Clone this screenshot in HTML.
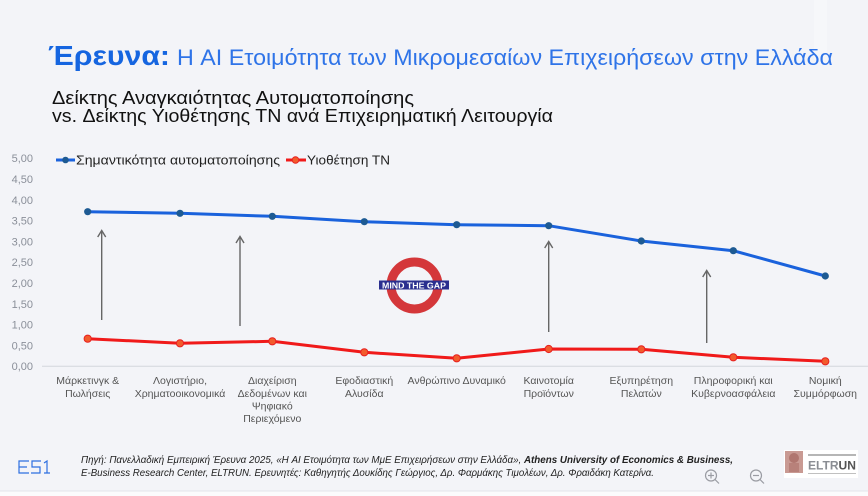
<!DOCTYPE html>
<html><head><meta charset="utf-8"><style>
html,body{margin:0;padding:0;background:#f3f4f8;}
svg{display:block;}
text{font-family:"Liberation Sans","DejaVu Sans",sans-serif;}
</style></head><body>
<svg width="868" height="496" viewBox="0 0 868 496" xmlns="http://www.w3.org/2000/svg">
<rect x="0" y="0" width="868" height="496" fill="#f3f4f8"/>
<rect x="814" y="0" width="13" height="60" fill="#f6f7fa"/>
<rect x="0" y="491" width="868" height="5" fill="#fbfbfc"/>
<line x1="0" y1="491" x2="868" y2="491" stroke="#e3e5ea" stroke-width="1"/>

<!-- Title -->
<text x="48" y="65" font-size="28" font-weight="bold" fill="#1565e0" textLength="122" lengthAdjust="spacingAndGlyphs">Έρευνα:</text>
<text x="177" y="65" font-size="22" fill="#2f74e8" textLength="656" lengthAdjust="spacingAndGlyphs">Η AI Ετοιμότητα των Μικρομεσαίων Επιχειρήσεων στην Ελλάδα</text>

<text x="52" y="104" font-size="18" fill="#111" textLength="362" lengthAdjust="spacingAndGlyphs">Δείκτης Αναγκαιότητας Αυτοματοποίησης</text>
<text x="52" y="122" font-size="18" fill="#111" textLength="501" lengthAdjust="spacingAndGlyphs">vs. Δείκτης Υιοθέτησης ΤΝ ανά Επιχειρηματική Λειτουργία</text>

<!-- Y axis labels -->
<g font-size="11" fill="#8a8f99" text-anchor="end">
<text x="33" y="162">5,00</text>
<text x="33" y="183">4,50</text>
<text x="33" y="204">4,00</text>
<text x="33" y="224.5">3,50</text>
<text x="33" y="245.5">3,00</text>
<text x="33" y="266">2,50</text>
<text x="33" y="287">2,00</text>
<text x="33" y="308">1,50</text>
<text x="33" y="328.5">1,00</text>
<text x="33" y="349.5">0,50</text>
<text x="33" y="370">0,00</text>
</g>

<!-- baseline -->
<line x1="42" y1="366.3" x2="868" y2="366.3" stroke="#d3d6dc" stroke-width="1"/>

<!-- Legend -->
<line x1="56" y1="160" x2="75" y2="160" stroke="#1a62dc" stroke-width="3"/>
<circle cx="65.5" cy="160" r="3.3" fill="#1d5a93"/>
<text x="76" y="164.5" font-size="13" fill="#222" textLength="204" lengthAdjust="spacingAndGlyphs">Σημαντικότητα αυτοματοποίησης</text>
<line x1="286" y1="160" x2="306" y2="160" stroke="#f01a1a" stroke-width="3"/>
<circle cx="295.5" cy="160" r="3.3" fill="#f25b2c" stroke="#e82020" stroke-width="1"/>
<text x="307" y="164.5" font-size="13" fill="#222" textLength="83" lengthAdjust="spacingAndGlyphs">Υιοθέτηση ΤΝ</text>

<!-- Arrows -->
<g stroke="#666" stroke-width="1.4" fill="none">
<line x1="101.7" y1="320" x2="101.7" y2="231"/>
<polyline points="97.7,237 101.7,230.5 105.7,237"/>
<line x1="240" y1="326" x2="240" y2="237"/>
<polyline points="236,243 240,236.5 244,243"/>
<line x1="548.7" y1="332" x2="548.7" y2="242"/>
<polyline points="544.7,248 548.7,241.5 552.7,248"/>
<line x1="706.7" y1="343" x2="706.7" y2="271"/>
<polyline points="702.7,277 706.7,270.5 710.7,277"/>
</g>

<!-- Mind the gap -->
<circle cx="414.5" cy="285.5" r="23.5" fill="none" stroke="#d4373a" stroke-width="9"/>
<rect x="379" y="280.5" width="70" height="9" fill="#2b2f8f"/>
<text x="414" y="288.3" font-size="8" font-weight="bold" fill="#fff" text-anchor="middle" textLength="64" lengthAdjust="spacingAndGlyphs">MIND THE GAP</text>

<!-- Blue series -->
<polyline fill="none" stroke="#1a62dc" stroke-width="3" stroke-linejoin="round" points="87.7,211.7 180,213.3 272.3,216.3 364.3,221.7 456.7,224.7 548.7,225.7 641.3,241 733.3,250.7 825.3,276"/>
<g fill="#1d5a93">
<circle cx="87.7" cy="211.7" r="3.6"/><circle cx="180" cy="213.3" r="3.6"/><circle cx="272.3" cy="216.3" r="3.6"/><circle cx="364.3" cy="221.7" r="3.6"/><circle cx="456.7" cy="224.7" r="3.6"/><circle cx="548.7" cy="225.7" r="3.6"/><circle cx="641.3" cy="241" r="3.6"/><circle cx="733.3" cy="250.7" r="3.6"/><circle cx="825.3" cy="276" r="3.6"/>
</g>

<!-- Red series -->
<polyline fill="none" stroke="#f01a1a" stroke-width="3" stroke-linejoin="round" points="87.7,338.7 180,343.3 272.3,341.3 364.3,352.3 456.7,358.3 548.7,349 641.3,349.3 733.3,357.3 825.3,361.3"/>
<g fill="#f25b2c" stroke="#e82020" stroke-width="1">
<circle cx="87.7" cy="338.7" r="3.6"/><circle cx="180" cy="343.3" r="3.6"/><circle cx="272.3" cy="341.3" r="3.6"/><circle cx="364.3" cy="352.3" r="3.6"/><circle cx="456.7" cy="358.3" r="3.6"/><circle cx="548.7" cy="349" r="3.6"/><circle cx="641.3" cy="349.3" r="3.6"/><circle cx="733.3" cy="357.3" r="3.6"/><circle cx="825.3" cy="361.3" r="3.6"/>
</g>

<!-- X labels -->
<g font-size="10.5" fill="#555" text-anchor="middle">
<text x="87.7" y="384">Μάρκετινγκ &amp;</text><text x="87.7" y="397">Πωλήσεις</text>
<text x="180" y="384">Λογιστήριο,</text><text x="180" y="397">Χρηματοοικονομικά</text>
<text x="272.3" y="384">Διαχείριση</text><text x="272.3" y="397">Δεδομένων και</text><text x="272.3" y="409.5">Ψηφιακό</text><text x="272.3" y="422">Περιεχόμενο</text>
<text x="364.3" y="384">Εφοδιαστική</text><text x="364.3" y="397">Αλυσίδα</text>
<text x="456.7" y="384">Ανθρώπινο Δυναμικό</text>
<text x="548.7" y="384">Καινοτομία</text><text x="548.7" y="397">Προϊόντων</text>
<text x="641.3" y="384">Εξυπηρέτηση</text><text x="641.3" y="397">Πελατών</text>
<text x="733.3" y="384">Πληροφορική και</text><text x="733.3" y="397">Κυβερνοασφάλεια</text>
<text x="825.3" y="384">Νομική</text><text x="825.3" y="397">Συμμόρφωση</text>
</g>

<!-- ES1 logo -->
<g fill="none" stroke="#2d6fe0" stroke-width="1.2">
<path d="M29,461 H19 V473 H29 M19,467 H27"/>
<path d="M41,461 H32 V467 H40 V473 H31"/>
<path d="M44,463 L47,461 V473 M44,473 H50"/>
</g>

<!-- Footer text -->
<text x="81" y="463" font-size="10.5" font-style="italic" fill="#222" textLength="652" lengthAdjust="spacingAndGlyphs">Πηγή: Πανελλαδική Εμπειρική Έρευνα 2025, «Η AI Ετοιμότητα των ΜμΕ Επιχειρήσεων στην Ελλάδα», <tspan font-weight="bold">Athens University of Economics &amp; Business,</tspan></text>
<text x="81" y="476" font-size="10.5" font-style="italic" fill="#222" textLength="573" lengthAdjust="spacingAndGlyphs">E-Business Research Center, ELTRUN. Ερευνητές: Καθηγητής Δουκίδης Γεώργιος, Δρ. Φαρμάκης Τιμολέων, Δρ. Φραιδάκη Κατερίνα.</text>

<!-- zoom icons -->
<g fill="none" stroke="#9a9ca3" stroke-width="1.2">
<circle cx="711" cy="475.5" r="5.5"/><line x1="715" y1="479.5" x2="719" y2="483.5"/><line x1="708" y1="475.5" x2="714" y2="475.5"/><line x1="711" y1="472.5" x2="711" y2="478.5"/>
<circle cx="756" cy="475.5" r="5.5"/><line x1="760" y1="479.5" x2="764" y2="483.5"/><line x1="753" y1="475.5" x2="759" y2="475.5"/>
</g>

<!-- ELTRUN logo -->
<rect x="784" y="450" width="74" height="28" fill="#ffffff"/>
<rect x="785" y="451" width="18" height="22" fill="#c99a93"/>
<circle cx="794" cy="458" r="5" fill="#b0766f"/>
<rect x="789" y="463" width="10" height="9" fill="#b8817a"/>
<line x1="808" y1="455" x2="856" y2="455" stroke="#8a8a8a" stroke-width="1.2"/>
<text x="808" y="469.5" font-size="11.5" font-weight="bold" fill="#8a8d93" textLength="48" lengthAdjust="spacingAndGlyphs">ELTR<tspan fill="#555">UN</tspan></text>
<line x1="808" y1="473.5" x2="856" y2="473.5" stroke="#c0c0c0" stroke-width="1"/>
</svg>
</body></html>
